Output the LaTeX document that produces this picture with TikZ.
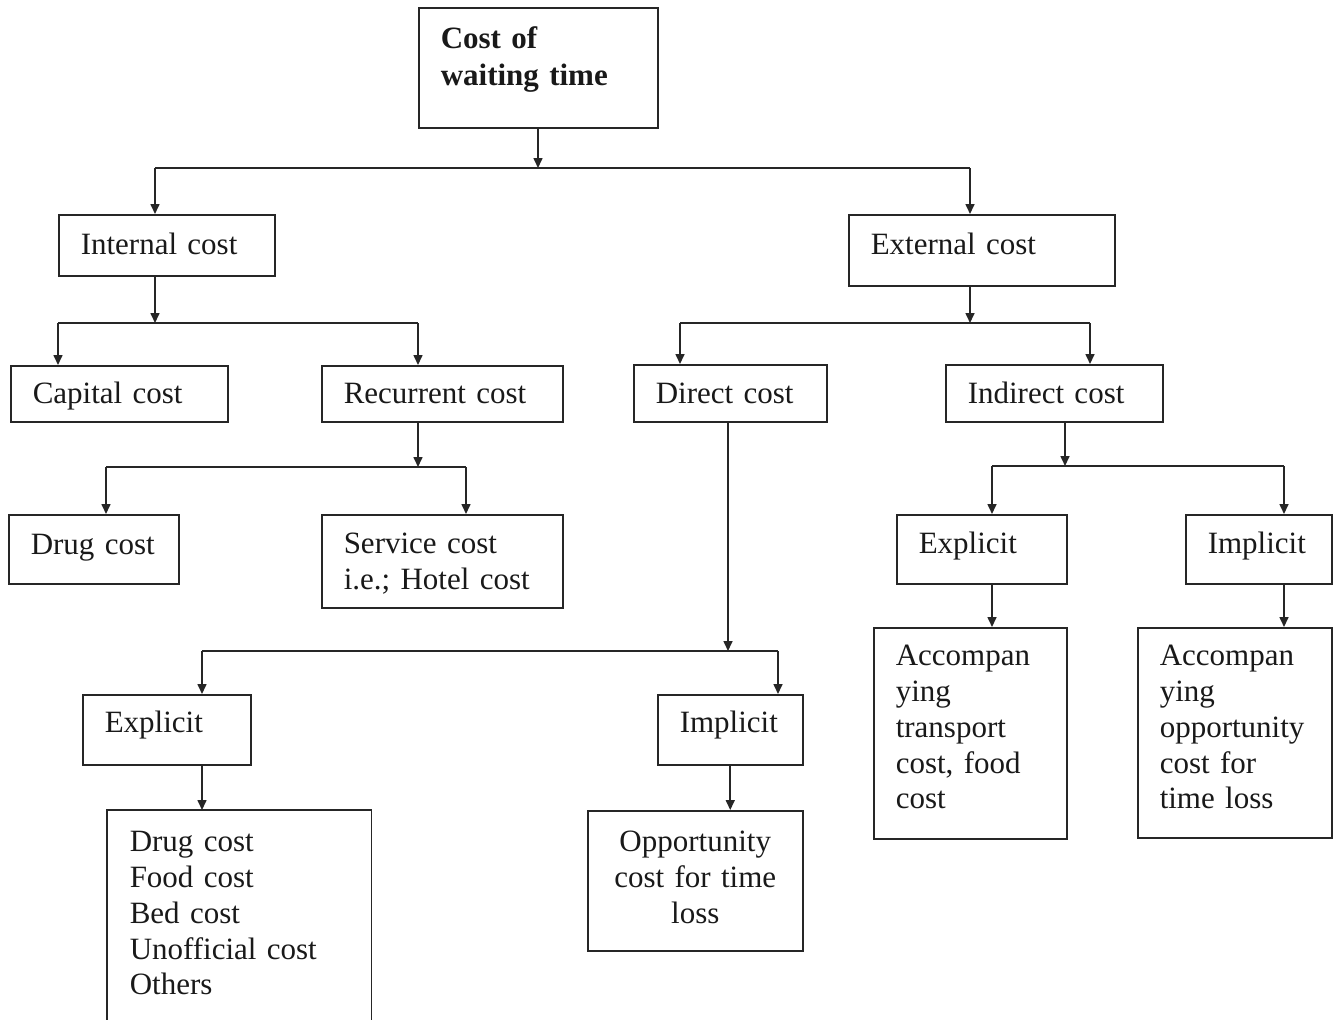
\documentclass[tikz,border=0pt]{standalone}
\usepackage{fontspec}
\setmainfont{Liberation Serif}
\usetikzlibrary{arrows.meta}
\tikzset{
  box/.style={draw=black!85, line width=1.5pt, inner xsep=22pt, inner ysep=0pt,
    anchor=north west, align=left, text=black!90,
    font=\fontsize{31}{35.75}\selectfont},
  ln/.style={draw=black!85, line width=1.6pt},
  arr/.style={ln, -{Triangle[length=10pt,width=9pt]}},
}
\begin{document}
\begin{tikzpicture}[x=1pt,y=-1pt]
\useasboundingbox (0,0) rectangle (1336,1020);
% boxes
\node[box, text width=195pt, text height=41pt, text depth=79pt,
  font=\fontsize{31}{37}\selectfont\bfseries] (root) at (418,7) {Cost of\\waiting time};
\node[box, text width=172pt, text height=40pt, text depth=21pt] (int) at (58,214) {Internal cost};
\node[box, text width=222pt, text height=40pt, text depth=31pt] (ext) at (848,214) {External cost};
\node[box, text width=173pt, text height=38pt, text depth=18pt] (cap) at (10,365) {Capital cost};
\node[box, text width=197pt, text height=38pt, text depth=18pt] (rec) at (321,365) {Recurrent cost};
\node[box, text width=149pt, text height=39pt, text depth=18pt] (dir) at (633,364) {Direct cost};
\node[box, text width=173pt, text height=39pt, text depth=18pt] (ind) at (945,364) {Indirect cost};
\node[box, text width=126pt, text height=40pt, text depth=29pt] (drug) at (8,514) {Drug cost};
\node[box, text width=197pt, text height=39pt, text depth=54pt] (serv) at (321,514) {Service cost\\i.e.; Hotel cost};
\node[box, text width=126pt, text height=39pt, text depth=30pt] (explR) at (896,514) {Explicit};
\node[box, text width=102pt, text height=39pt, text depth=30pt] (implR) at (1185,514) {Implicit};
\node[box, text width=149pt, text height=38pt, text depth=173pt] (acc1) at (873,627) {Accompan\\ying\\transport\\cost, food\\cost};
\node[box, text width=150pt, text height=38pt, text depth=172pt] (acc2) at (1137,627) {Accompan\\ying\\opportunity\\cost for\\time loss};
\node[box, text width=124pt, text height=38pt, text depth=32pt] (explL) at (82,694) {Explicit};
\node[box, text width=101pt, text height=38pt, text depth=32pt] (implL) at (657,694) {Implicit};
\node[box, draw=none, text width=219pt, text height=41pt, text depth=175pt] (list) at (107,810) {Drug cost\\Food cost\\Bed cost\\Unofficial cost\\Others};
\draw[ln] (list.south west) -- (list.north west) -- (list.north east) -- (list.south east);
\node[box, align=center, text width=171pt, text height=41pt, text depth=99pt] (opp) at (587,810) {Opportunity\\cost for time\\loss};
% junctions
\coordinate (jr) at (538,168);
\coordinate (ja) at (155,168);
\coordinate (jb) at (970,168);
\coordinate (jc) at (155,323);
\coordinate (jd) at (58,323);
\coordinate (je) at (418,323);
\coordinate (jf) at (970,323);
\coordinate (jg) at (680,323);
\coordinate (jh) at (1090,323);
\coordinate (ji) at (418,467);
\coordinate (jj) at (106,467);
\coordinate (jk) at (466,467);
\coordinate (jl) at (1065,466);
\coordinate (jm) at (992,466);
\coordinate (jn) at (1284,466);
\coordinate (jo) at (728,651);
\coordinate (jp) at (202,651);
\coordinate (jq) at (778,651);
% root level
\draw[arr] (root.south -| jr) -- (jr);
\draw[ln] (ja) -- (jb);
\draw[arr] (ja) -- (int.north -| ja);
\draw[arr] (jb) -- (ext.north -| jb);
% internal
\draw[arr] (int.south -| jc) -- (jc);
\draw[ln] (jd) -- (je);
\draw[arr] (jd) -- (cap.north -| jd);
\draw[arr] (je) -- (rec.north -| je);
% external
\draw[arr] (ext.south -| jf) -- (jf);
\draw[ln] (jg) -- (jh);
\draw[arr] (jg) -- (dir.north -| jg);
\draw[arr] (jh) -- (ind.north -| jh);
% recurrent
\draw[arr] (rec.south -| ji) -- (ji);
\draw[ln] (jj) -- (jk);
\draw[arr] (jj) -- (drug.north -| jj);
\draw[arr] (jk) -- (serv.north -| jk);
% indirect
\draw[arr] (ind.south -| jl) -- (jl);
\draw[ln] (jm) -- (jn);
\draw[arr] (jm) -- (explR.north -| jm);
\draw[arr] (jn) -- (implR.north -| jn);
\draw[arr] (explR.south -| jm) -- (acc1.north -| jm);
\draw[arr] (implR.south -| jn) -- (acc2.north -| jn);
% direct
\draw[arr] (dir.south -| jo) -- (jo);
\draw[ln] (jp) -- (jq);
\draw[arr] (jp) -- (explL.north -| jp);
\draw[arr] (jq) -- (implL.north -| jq);
\draw[arr] (explL.south -| jp) -- (list.north -| jp);
\draw[arr] (implL.south) -- (opp.north -| implL.south);
\end{tikzpicture}
\end{document}
